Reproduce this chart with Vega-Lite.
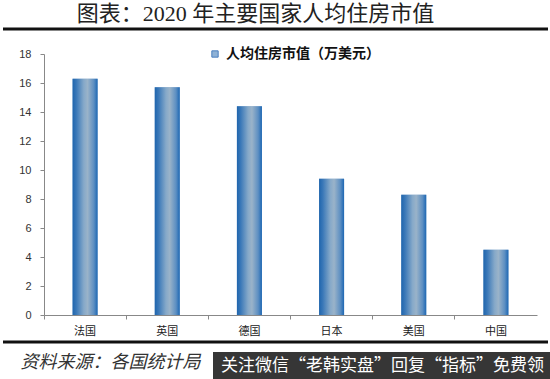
{
  "$schema": "https://vega.github.io/schema/vega-lite/v6.json",
  "autosize": "none",
  "width": 493,
  "height": 261,
  "padding": {"left": 44, "top": 54, "right": 13, "bottom": 64},
  "background": "white",
  "title": {
    "text": "图表：2020 年主要国家人均住房市值",
    "font": "Liberation Serif, Noto Sans CJK SC",
    "fontSize": 22,
    "fontWeight": "normal",
    "color": "#222222",
    "anchor": "middle",
    "frame": "group",
    "offset": 2,
    "dx": -35
  },
  "data": {
    "values": [
      {"country": "法国", "value": 16.3},
      {"country": "英国", "value": 15.7},
      {"country": "德国", "value": 14.4},
      {"country": "日本", "value": 9.4},
      {"country": "美国", "value": 8.3},
      {"country": "中国", "value": 4.5}
    ]
  },
  "layer": [
    {
      "mark": {"type": "bar", "width": 25},
      "encoding": {
        "x": {
          "field": "country",
          "type": "nominal",
          "sort": null,
          "scale": {"paddingInner": 0, "paddingOuter": 0},
          "axis": {
            "title": "资料来源：各国统计局",
            "titleFont": "Liberation Serif, Noto Sans CJK SC",
            "titleFontStyle": "italic",
            "titleFontWeight": "normal",
            "titleFontSize": 18,
            "titleColor": "#333333",
            "titleAnchor": "start",
            "titleAlign": "left",
            "titleBaseline": "alphabetic",
            "titleX": -24,
            "titleY": 52,
            "labelAngle": 0,
            "labelFont": "Noto Sans CJK SC",
            "labelFontSize": 11,
            "labelColor": "#222222",
            "labelPadding": 6,
            "bandPosition": 0,
            "tickSize": 4,
            "tickColor": "#888888",
            "domainColor": "#888888",
            "zindex": 0
          }
        },
        "y": {
          "field": "value",
          "type": "quantitative",
          "scale": {"domain": [0, 18], "nice": false, "clamp": false},
          "axis": {
            "title": null,
            "values": [0, 2, 4, 6, 8, 10, 12, 14, 16, 18],
            "tickCount": 10,
            "grid": false,
            "labelFont": "Liberation Sans",
            "labelFontSize": 11,
            "labelColor": "#333333",
            "labelPadding": 9,
            "labelOverlap": false,
            "tickSize": 4,
            "tickColor": "#888888",
            "domainColor": "#888888"
          }
        },
        "color": {
          "datum": "人均住房市值（万美元）",
          "scale": {"range": ["#8fb2d6"]},
          "legend": {
            "title": null,
            "orient": "none",
            "legendX": 164,
            "legendY": -7,
            "symbolType": "square",
            "symbolSize": 40,
            "symbolStrokeColor": "#4a7fbf",
            "symbolStrokeWidth": 1,
            "labelFont": "Noto Sans CJK SC",
            "labelFontSize": 14,
            "labelFontWeight": "bold",
            "labelColor": "#111111",
            "labelOffset": 4,
            "labelLimit": 400
          }
        }
      }
    },
    {
      "mark": {
        "type": "bar",
        "width": 25,
        "fill": {
          "gradient": "linear",
          "x1": 0, "x2": 1, "y1": 0, "y2": 0,
          "stops": [
            {"offset": 0, "color": "#1f65ad"},
            {"offset": 0.15, "color": "#3a78b8"},
            {"offset": 0.45, "color": "#86a9c9"},
            {"offset": 0.6, "color": "#9ab3c9"},
            {"offset": 0.85, "color": "#5d8fc2"},
            {"offset": 1, "color": "#1d67b3"}
          ]
        }
      },
      "encoding": {
        "x": {"field": "country", "type": "nominal", "sort": null},
        "y": {"field": "value", "type": "quantitative"}
      }
    },
    {
      "data": {"values": [{"pos": 19.72}, {"pos": -1.86}]},
      "mark": {"type": "rule", "strokeWidth": 3, "color": "#111111"},
      "encoding": {
        "y": {
          "field": "pos",
          "type": "quantitative",
          "axis": {
            "title": null,
            "values": [0, 2, 4, 6, 8, 10, 12, 14, 16, 18],
            "tickCount": 10,
            "grid": false,
            "labelFont": "Liberation Sans",
            "labelFontSize": 11,
            "labelColor": "#333333",
            "labelPadding": 9,
            "labelOverlap": false,
            "tickSize": 4,
            "tickColor": "#888888",
            "domainColor": "#888888"
          }
        },
        "x": {"value": -41},
        "x2": {"value": 504}
      }
    },
    {
      "data": {"values": [{"t": "关注微信“老韩实盘”回复“指标”免费领"}]},
      "mark": {"type": "rect", "color": "#363636"},
      "encoding": {
        "x": {"value": 169},
        "x2": {"value": 506},
        "y": {"value": 298},
        "y2": {"value": 325}
      }
    },
    {
      "data": {"values": [{"t": "关注微信“老韩实盘”回复“指标”免费领"}]},
      "mark": {
        "type": "text",
        "font": "Noto Sans CJK SC",
        "fontSize": 17,
        "color": "white",
        "align": "left",
        "baseline": "middle"
      },
      "encoding": {
        "text": {"field": "t"},
        "x": {"value": 177},
        "y": {"value": 312}
      }
    }
  ],
  "config": {"view": {"stroke": null}}
}
